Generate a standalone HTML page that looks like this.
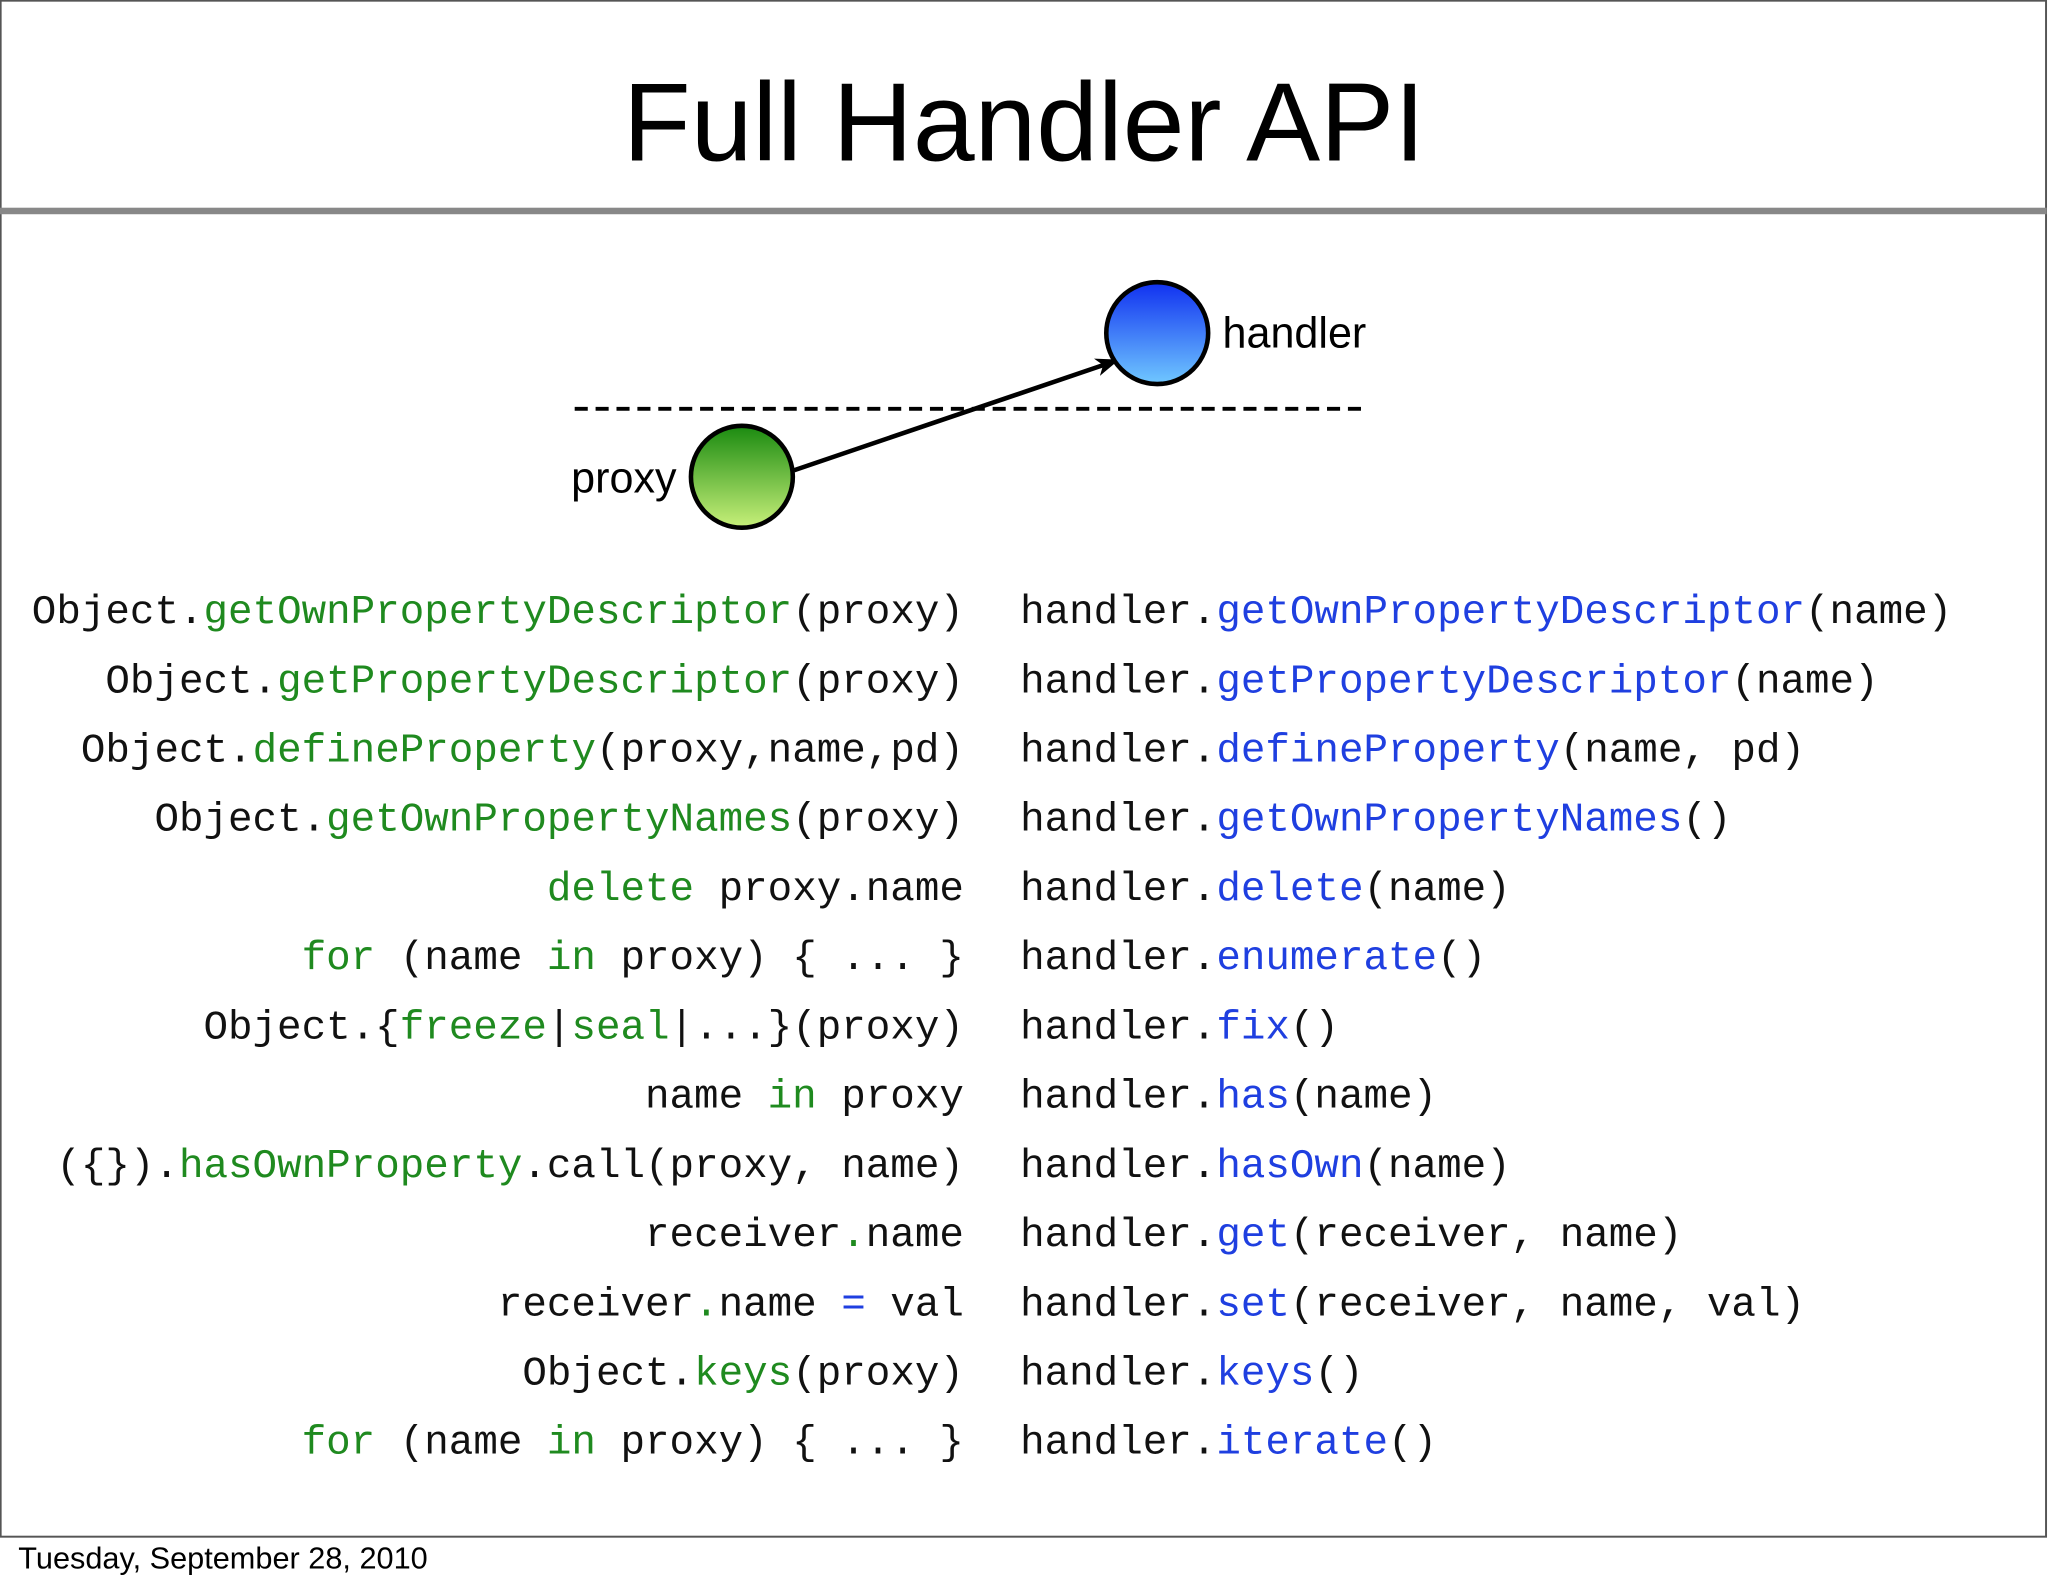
<!DOCTYPE html>
<html><head><meta charset="utf-8"><style>
html,body{margin:0;padding:0;background:#fff}
svg{display:block}
.c{font-family:"Liberation Mono",monospace;font-size:31.3px;fill:#111}
.g{fill:#1f8a1f}.b{fill:#1f3fe0}
</style></head><body>
<svg width="2048" height="1587" viewBox="0 0 1568 1215" xmlns="http://www.w3.org/2000/svg">
<defs>
<linearGradient id="gg" x1="0" y1="0" x2="0" y2="1"><stop offset="0" stop-color="#1a8a10"/><stop offset="1" stop-color="#c8f07a"/></linearGradient>
<linearGradient id="bg" x1="0" y1="0" x2="0" y2="1"><stop offset="0" stop-color="#1030f0"/><stop offset="1" stop-color="#70c8ff"/></linearGradient>
<marker id="ar" markerWidth="18" markerHeight="14" refX="16" refY="7" orient="auto" markerUnits="userSpaceOnUse" viewBox="0 0 18 14"><path d="M0,0 L18,7 L0,14 L5,7 z" fill="#000"/></marker>
</defs>
<rect x="0.5" y="0.5" width="1566" height="1176" fill="#fff" stroke="#555" stroke-width="1.5"/>
<rect x="0" y="159" width="1567" height="5" fill="#888"/>
<text x="784" y="123" text-anchor="middle" font-family="Liberation Sans,sans-serif" font-size="85" fill="#000">Full Handler API</text>
<line x1="440" y1="313" x2="1042" y2="313" stroke="#000" stroke-width="3" stroke-dasharray="10,6"/>
<line x1="608" y1="360" x2="855" y2="276" stroke="#000" stroke-width="3.5" marker-end="url(#ar)"/>
<circle cx="568" cy="365" r="39" fill="url(#gg)" stroke="#000" stroke-width="3.5"/>
<circle cx="886" cy="255" r="39" fill="url(#bg)" stroke="#000" stroke-width="3.5"/>
<text x="518" y="377" text-anchor="end" font-family="Liberation Sans,sans-serif" font-size="33">proxy</text>
<text x="936" y="266" font-family="Liberation Sans,sans-serif" font-size="33">handler</text>
<g class="c" text-anchor="end" xml:space="preserve">
<text x="738" y="477">Object.<tspan class="g">getOwnPropertyDescriptor</tspan>(proxy)</text>
<text x="738" y="530">Object.<tspan class="g">getPropertyDescriptor</tspan>(proxy)</text>
<text x="738" y="583">Object.<tspan class="g">defineProperty</tspan>(proxy,name,pd)</text>
<text x="738" y="636">Object.<tspan class="g">getOwnPropertyNames</tspan>(proxy)</text>
<text x="738" y="689"><tspan class="g">delete</tspan> proxy.name</text>
<text x="738" y="742"><tspan class="g">for</tspan> (name <tspan class="g">in</tspan> proxy) { ... }</text>
<text x="738" y="795">Object.{<tspan class="g">freeze</tspan>|<tspan class="g">seal</tspan>|...}(proxy)</text>
<text x="738" y="848">name <tspan class="g">in</tspan> proxy</text>
<text x="738" y="901">({}).<tspan class="g">hasOwnProperty</tspan>.call(proxy, name)</text>
<text x="738" y="954">receiver<tspan class="g">.</tspan>name</text>
<text x="738" y="1007">receiver<tspan class="g">.</tspan>name <tspan class="b">=</tspan> val</text>
<text x="738" y="1060">Object.<tspan class="g">keys</tspan>(proxy)</text>
<text x="738" y="1113"><tspan class="g">for</tspan> (name <tspan class="g">in</tspan> proxy) { ... }</text>
</g>
<g class="c" xml:space="preserve">
<text x="781" y="477">handler.<tspan class="b">getOwnPropertyDescriptor</tspan>(name)</text>
<text x="781" y="530">handler.<tspan class="b">getPropertyDescriptor</tspan>(name)</text>
<text x="781" y="583">handler.<tspan class="b">defineProperty</tspan>(name, pd)</text>
<text x="781" y="636">handler.<tspan class="b">getOwnPropertyNames</tspan>()</text>
<text x="781" y="689">handler.<tspan class="b">delete</tspan>(name)</text>
<text x="781" y="742">handler.<tspan class="b">enumerate</tspan>()</text>
<text x="781" y="795">handler.<tspan class="b">fix</tspan>()</text>
<text x="781" y="848">handler.<tspan class="b">has</tspan>(name)</text>
<text x="781" y="901">handler.<tspan class="b">hasOwn</tspan>(name)</text>
<text x="781" y="954">handler.<tspan class="b">get</tspan>(receiver, name)</text>
<text x="781" y="1007">handler.<tspan class="b">set</tspan>(receiver, name, val)</text>
<text x="781" y="1060">handler.<tspan class="b">keys</tspan>()</text>
<text x="781" y="1113">handler.<tspan class="b">iterate</tspan>()</text>
</g>
<text x="14" y="1201" font-family="Liberation Sans,sans-serif" font-size="23.5" fill="#000">Tuesday, September 28, 2010</text>
</svg>
</body></html>
